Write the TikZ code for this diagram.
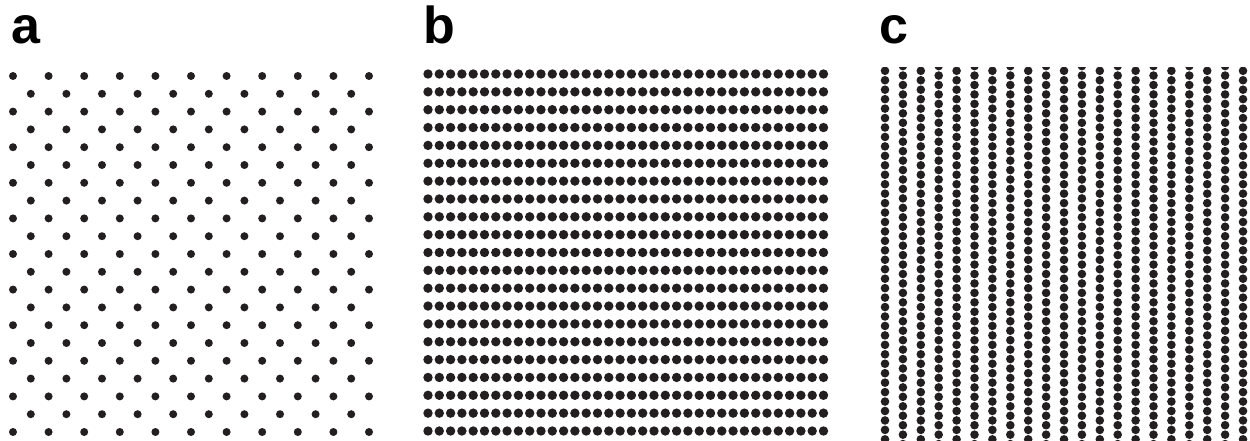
\documentclass[tikz,border=0pt]{standalone}
\usepackage{fontspec}
\setmainfont{Liberation Sans}
\usepackage{tikz}
\definecolor{dotdark}{RGB}{35,31,32}
\tikzset{
  panellabel/.style={anchor=base west, inner sep=0pt, font=\fontsize{52}{60}\selectfont\bfseries},
  dota/.style={fill=dotdark},
  dotb/.style={fill=dotdark},
  dotc/.style={fill=dotdark}
}

\begin{document}
\begin{tikzpicture}[x=1pt,y=-1pt]
  \useasboundingbox (0,0) rectangle (1250,441);
  % panel labels
  \node (la) [panellabel] at (11,44) {a};
  \node (lb) [panellabel] at (423,44) {b};
  \node (lc) [panellabel] at (879,44) {c};
  % a: centred square lattice
  \foreach \i in {0,...,10}
    \foreach \j in {0,...,10}
      \fill [dota] (13+35.6*\j, 76+35.6*\i) circle (4);
  \foreach \i in {0,...,9}
    \foreach \j in {0,...,9}
      \fill [dota] (30.8+35.6*\j, 93.8+35.6*\i) circle (4);
  % b: dense rows
  \foreach \i in {0,...,20}
    \foreach \j in {0,...,35}
      \fill [dotb] (428+11.3*\j, 74+17.85*\i) circle (4.7);
  % c: columns, alternate ones shifted
  \begin{scope}
    \clip (870,67.7) rectangle (1250,441);
    \foreach \k in {0,...,20} {
      \pgfmathsetmacro{\yoff}{mod(\k,2)==0 ? 70.8 : 66.1}
      \foreach \m in {0,...,40}
        \fill [dotc] (885+17.9*\k, \yoff+9.45*\m) circle (4.3);
    }
  \end{scope}
\end{tikzpicture}
\end{document}
